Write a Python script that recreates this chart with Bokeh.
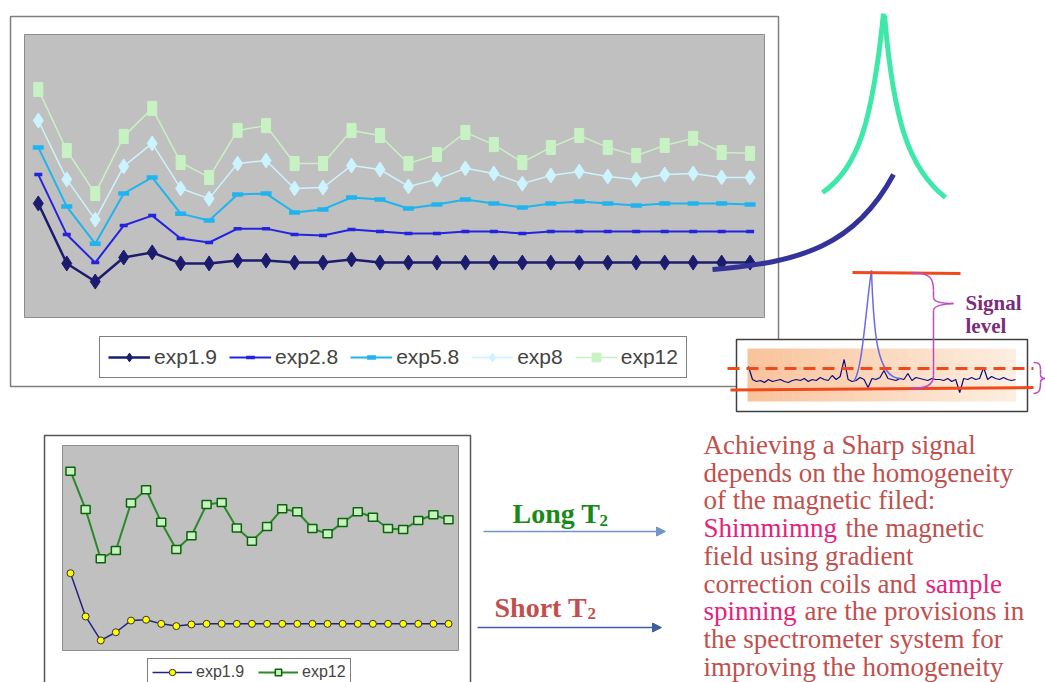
import numpy as np
from bokeh.plotting import figure
from bokeh.models import Range1d, Legend, LegendItem, Arrow, NormalHead
from bokeh.core.properties import value
from bokeh.embed import file_html
from bokeh.resources import INLINE

# ---------------- data ----------------
top_x = list(range(1, 27))
top_exp1_9 = [40.3, 19.1, 12.7, 21.2, 23.0, 19.1, 19.1, 20.1, 20.1, 19.4, 19.4, 20.5, 19.4,
              19.4, 19.4, 19.4, 19.4, 19.4, 19.4, 19.4, 19.4, 19.4, 19.4, 19.4, 19.4, 19.4]
top_exp2_8 = [50.5, 29.3, 19.4, 32.5, 36.0, 27.9, 26.5, 31.4, 31.4, 29.3, 29.0, 31.1, 30.4,
              29.7, 29.7, 30.4, 30.4, 29.7, 30.4, 30.4, 30.4, 30.4, 30.4, 30.4, 30.4, 30.4]
top_exp5_8 = [60.1, 39.2, 26.1, 43.8, 49.5, 36.7, 34.3, 43.5, 43.8, 37.1, 38.2, 42.4, 41.7,
              38.5, 39.9, 41.7, 40.3, 38.9, 40.3, 41.0, 40.3, 39.6, 40.3, 40.3, 40.3, 39.9]
top_exp8 = [69.6, 48.8, 34.6, 53.4, 61.5, 45.6, 42.0, 54.4, 55.5, 45.6, 45.9, 53.7, 52.3,
            46.3, 48.8, 52.7, 50.9, 47.3, 50.2, 51.6, 49.8, 48.8, 50.5, 50.9, 49.5, 49.5]
top_exp12 = [80.6, 59.0, 43.8, 64.0, 73.9, 54.8, 49.5, 66.1, 67.8, 54.4, 54.4, 66.1, 64.3,
             54.4, 57.6, 65.4, 61.1, 54.8, 60.1, 64.3, 60.1, 57.2, 60.8, 63.3, 58.3, 58.0]
top_labels = ["exp1.9", "exp2.8", "exp5.8", "exp8", "exp12"]

bot_x = list(range(1, 27))
bot_exp1_9 = [37.7, 16.6, 4.9, 8.9, 14.6, 15.0, 13.0, 11.9, 12.7, 13.0, 13.0, 13.0, 13.0,
              13.0, 13.0, 13.0, 13.0, 13.0, 13.0, 13.0, 13.0, 13.0, 13.0, 13.0, 13.0, 13.0]
bot_exp12 = [87.5, 68.8, 44.7, 48.8, 71.9, 78.4, 62.6, 49.3, 56.0, 71.2, 72.2, 59.8, 53.3,
             60.5, 69.1, 67.7, 59.5, 56.9, 62.4, 67.7, 65.0, 59.5, 59.0, 63.4, 66.2, 63.8]
bot_labels = ["exp1.9", "exp12"]

# hand-drawn baseline noise of the small spectrum (offsets in px)
noise = [-13, 0, 2, 1, 3, 0, 2, 1, 0, 2, 3, 1, 0, 1, -1, 2, 0, 1, -2, 0, 1, -4, 0, -3,
         -20, 0, 2, 1, -2, 0, 8, -1, 0, -2, -9, -1, 0, 1, -1, 0, -6, 1, -2, -1, 0, 1, -1,
         0, 0, 1, -1, 2, 0, 13, -1, 0, -2, 0, -1, -12, 0, -3, -1, 0, -2, 0, 1, 0]

para_lines = [
    [("Achieving a Sharp signal", 0)],
    [("depends on the homogeneity", 0)],
    [("of the magnetic filed:", 0)],
    [("Shimmimng", 1), ("the magnetic", 0)],
    [("field using gradient", 0)],
    [("correction coils and", 0), ("sample", 1)],
    [("spinning", 1), ("are the provisions in", 0)],
    [("the spectrometer system  for", 0)],
    [("improving the homogeneity", 0)],
]
seg_x = {(3, 1): 845, (5, 1): 925, (6, 1): 804}

# ---------------- figure (picture pixel coordinates) ----------------
W, H = 1045, 682
p = figure(width=W, height=H, x_range=Range1d(0, W), y_range=Range1d(H, 0),
           output_backend="svg", toolbar_location=None, min_border=0,
           x_axis_location=None, y_axis_location=None,
           background_fill_color="white", border_fill_color="white")
p.grid.visible = False
p.outline_line_color = None


def lin_range(p0, p1, d0, d1, f0, f1):
    s = (d1 - d0) / (p1 - p0)
    return Range1d(start=d0 + (f0 - p0) * s, end=d0 + (f1 - p0) * s)


p.extra_x_ranges = {
    "tx": lin_range(37.8, 749.6, 1, 26, 0, W),
    "bx": lin_range(70, 448, 1, 26, 0, W),
}
p.extra_y_ranges = {
    "ty": lin_range(317, 34, 0, 100, H, 0),
    "by": lin_range(650, 445, 0, 100, H, 0),
}

# ---------- top chart frame ----------
p.quad(left=[10], right=[778], top=[16], bottom=[386], fill_color="white",
       line_color="#7f7f7f", line_width=1.5)
p.quad(left=[24], right=[764], top=[34], bottom=[317], fill_color="#c0c0c0",
       line_color="#8c8c8c", line_width=1)

top_series = [
    (top_exp1_9, "#1c1c6e", 2.5, "diamond"),
    (top_exp2_8, "#2424e0", 2, "dash_s"),
    (top_exp5_8, "#20b4ee", 2, "dash_l"),
    (top_exp8, "#ccf4ff", 1.5, "diamond"),
    (top_exp12, "#c8f2c4", 1.5, "rect"),
]
top_items = []
for (vals, col, lw, mk), lab in zip(top_series, top_labels):
    ln = p.line(top_x, vals, line_color=col, line_width=lw, x_range_name="tx", y_range_name="ty")
    if mk == "diamond":
        sc = p.scatter(top_x, vals, marker="diamond", size=15, fill_color=col, line_color=col,
                       x_range_name="tx", y_range_name="ty")
        legr = [ln, sc]
    elif mk == "dash_s":
        sc = p.scatter(top_x, vals, marker="dash", size=8, line_color=col, line_width=3.5,
                       x_range_name="tx", y_range_name="ty")
        legr = [ln, sc]
    elif mk == "dash_l":
        sc = p.scatter(top_x, vals, marker="dash", size=11, line_color=col, line_width=4.5,
                       x_range_name="tx", y_range_name="ty")
        legr = [ln, sc]
    else:
        key = p.scatter(top_x, vals, marker="square", size=0, fill_color=col, line_color=col,
                        x_range_name="tx", y_range_name="ty")
        p.rect(top_x, vals, width=9, height=14, width_units="screen", height_units="screen",
               fill_color=col, line_color=col, x_range_name="tx", y_range_name="ty")
        legr = [ln, key]
    top_items.append(LegendItem(label=lab, renderers=legr))

leg1 = Legend(items=top_items, location=(99, 304), orientation="horizontal",
              label_text_font="Liberation Sans", label_text_font_size="21px",
              glyph_width=42, glyph_height=22, label_standoff=4, spacing=12, padding=8,
              margin=0, border_line_color="black", border_line_width=1.5,
              background_fill_color="white", background_fill_alpha=1)
p.add_layout(leg1)

# ---------- bottom chart frame ----------
p.quad(left=[44], right=[470], top=[435], bottom=[700], fill_color="white",
       line_color="#555555", line_width=1.5)
p.quad(left=[62], right=[458], top=[445], bottom=[650], fill_color="#c0c0c0",
       line_color="#8c8c8c", line_width=1)

bl1 = p.line(bot_x, bot_exp1_9, line_color="#23237e", line_width=1.5,
             x_range_name="bx", y_range_name="by")
bs1 = p.scatter(bot_x, bot_exp1_9, marker="circle", size=7, fill_color="#ffff00",
                line_color="#333333", line_width=1, x_range_name="bx", y_range_name="by")
bl2 = p.line(bot_x, bot_exp12, line_color="#2a8a2a", line_width=2,
             x_range_name="bx", y_range_name="by")
bk2 = p.scatter(bot_x, bot_exp12, marker="square", size=0, fill_color="#c8f0c0",
                line_color="#0a640a", line_width=1.5, x_range_name="bx", y_range_name="by")
p.rect(bot_x, bot_exp12, width=9, height=8, width_units="screen", height_units="screen",
       fill_color="#c8f0c0", line_color="#0a640a", line_width=1.5,
       x_range_name="bx", y_range_name="by")
leg2 = Legend(items=[LegendItem(label=bot_labels[0], renderers=[bl1, bs1]),
                     LegendItem(label=bot_labels[1], renderers=[bl2, bk2])],
              location=(147, -4), orientation="horizontal",
              label_text_font="Liberation Sans", label_text_font_size="16px",
              glyph_width=40, glyph_height=16, label_height=16, label_standoff=4,
              spacing=14, padding=4, margin=0, border_line_color="black",
              border_line_width=1.2, background_fill_color="white", background_fill_alpha=1)
p.add_layout(leg2)

# ---------- sharp peak and connecting curve ----------
p.bezier(x0=[822, 884], y0=[192, 15], x1=[883, 945], y1=[13, 197],
         cx0=[858, 893], cy0=[168, 120], cx1=[872, 908], cy1=[120, 168],
         line_color="#3ee8a8", line_width=5)
p.bezier(x0=[712], y0=[269], x1=[893], y1=[174], cx0=[800], cy0=[262], cx1=[855], cy1=[245],
         line_color="#333399", line_width=5)

# ---------- inset noise spectrum ----------
p.quad(left=[736], right=[1027], top=[339], bottom=[411], fill_color="white",
       line_color="#404040", line_width=1.5)
nstrip = 30
edges = np.linspace(747, 1015, nstrip + 1)
c0 = np.array([249, 196, 156])
c1 = np.array([253, 238, 224])
cols = ["#%02x%02x%02x" % tuple(int(v) for v in c0 + (c1 - c0) * (i / (nstrip - 1)))
        for i in range(nstrip)]
p.quad(left=edges[:-1], right=edges[1:] + 0.5, top=[348] * nstrip, bottom=[401] * nstrip,
       fill_color=cols, line_color=None)

nx = np.linspace(748, 1015, len(noise))
p.line(nx, [379 + v for v in noise], line_color="#0a0a80", line_width=1.2)

p.bezier(x0=[853, 871], y0=[381, 270], x1=[871, 900], y1=[270, 378],
         cx0=[862, 873], cy0=[372, 330], cx1=[866, 876], cy1=[300, 378],
         line_color="#6a6ae6", line_width=1.5)

red = "#f04a1c"
p.line([852, 960], [272, 273], line_color=red, line_width=3)
p.line([730, 1033], [389.5, 387], line_color=red, line_width=3)
p.line([727, 1033], [368, 368], line_color=red, line_width=3, line_dash="12 7")

# brace
purple = "#bf48c6"
p.bezier(x0=[910, 933, 953, 933], y0=[272, 297, 303, 375],
         x1=[933, 953, 933, 910], y1=[290, 303, 310, 388],
         cx0=[930, 933, 945, 933], cy0=[272, 302, 303, 385],
         cx1=[933, 945, 933, 925], cy1=[278, 303, 305, 388],
         line_color=purple, line_width=1.5)
p.line([933, 933], [290, 297], line_color=purple, line_width=1.5)
p.line([933, 933], [310, 375], line_color=purple, line_width=1.5)
p.bezier(x0=[1033, 1040, 1045, 1040], y0=[362, 374, 378, 382],
         x1=[1040, 1045, 1040, 1033], y1=[369, 378, 382, 393],
         cx0=[1039, 1040, 1042, 1040], cy0=[362, 377, 378, 391],
         cx1=[1040, 1042, 1040, 1038], cy1=[364, 378, 379, 393],
         line_color=purple, line_width=1.5)
p.line([1040, 1040], [369, 374], line_color=purple, line_width=1.5)

p.text(x=[965, 965], y=[302, 325], text=["Signal", "level"],
       text_font=value("Liberation Serif"), text_font_style="bold", text_font_size="21px",
       text_color="#7b2d7b", text_baseline="alphabetic")

# ---------- arrows & labels ----------
a1 = "#7096c8"
a2 = "#3f5f9f"
p.add_layout(Arrow(end=NormalHead(size=9, fill_color=a1, line_color=a1),
                   x_start=483, y_start=531, x_end=665, y_end=531,
                   line_color=a1, line_width=1.5))
p.add_layout(Arrow(end=NormalHead(size=9, fill_color=a2, line_color=a2),
                   x_start=477, y_start=627, x_end=661, y_end=627,
                   line_color=a2, line_width=1.5))

p.text(x=[512], y=[513], text=["Long T"], text_font=value("Liberation Serif"),
       text_font_style="bold", text_font_size="28px", text_color="#178a17",
       text_baseline="alphabetic")
p.text(x=[599], y=[520], text=["2"], text_font=value("Liberation Serif"),
       text_font_style="bold", text_font_size="17px", text_color="#178a17",
       text_baseline="alphabetic")
p.text(x=[494], y=[607], text=["Short T"], text_font=value("Liberation Serif"),
       text_font_style="bold", text_font_size="28px", text_color="#c0504d",
       text_baseline="alphabetic")
p.text(x=[587], y=[613], text=["2"], text_font=value("Liberation Serif"),
       text_font_style="bold", text_font_size="17px", text_color="#c0504d",
       text_baseline="alphabetic")

# ---------- paragraph ----------
px, py, pt = [], [], []
hx, hy, ht = [], [], []
for i, segs in enumerate(para_lines):
    y = 444.5 + 27.7 * i
    for j, (s, hl) in enumerate(segs):
        x = 703 if j == 0 else seg_x[(i, j)]
        if hl:
            hx.append(x); hy.append(y); ht.append(s)
        else:
            px.append(x); py.append(y); pt.append(s)
p.text(x=px, y=py, text=pt, text_font=value("Liberation Serif"), text_font_size="27px",
       text_color="#c0504d", text_baseline="alphabetic")
p.text(x=hx, y=hy, text=ht, text_font=value("Liberation Serif"), text_font_size="27px",
       text_color="#e8207c", text_baseline="alphabetic")

open("out.html", "w").write(file_html(p, INLINE))
